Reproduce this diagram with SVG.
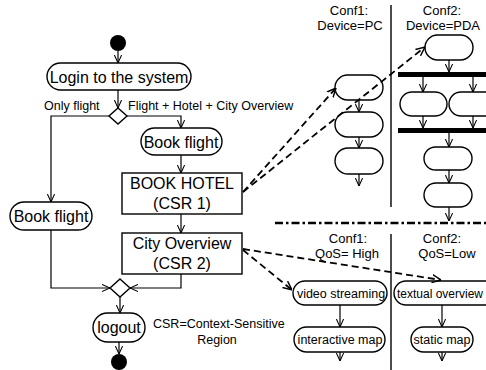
<svg xmlns="http://www.w3.org/2000/svg" width="486" height="370" viewBox="0 0 486 370">
<style>
  .node { fill: #fff; stroke: #000; stroke-width: 1.4; }
  .big { font-family: "Liberation Sans", Arial, sans-serif; font-size: 16px; fill: #000; text-anchor: middle; }
  .small { font-family: "Liberation Sans", Arial, sans-serif; font-size: 12.5px; fill: #000; }
  .mid { text-anchor: middle; }
  .flow { fill: none; stroke: #000; stroke-width: 1.2; marker-end: url(#arr); }
  .dash { fill: none; stroke: #000; stroke-width: 1.8; stroke-dasharray: 7 4; marker-end: url(#arr2); }
  .div { stroke: #000; stroke-width: 1.4; fill: none; }
</style>
<defs>
  <marker id="arr" viewBox="0 0 10 10" refX="10" refY="5" markerUnits="userSpaceOnUse" markerWidth="8" markerHeight="9" orient="auto">
    <path d="M0,0.5 L10,5 L0,9.5" fill="none" stroke="#000" stroke-width="1.3"/>
  </marker>
  <marker id="arr2" viewBox="0 0 10 10" refX="10" refY="5" markerUnits="userSpaceOnUse" markerWidth="9" markerHeight="10" orient="auto">
    <path d="M0,0.5 L10,5 L0,9.5" fill="none" stroke="#000" stroke-width="1.6"/>
  </marker>
</defs>
<rect width="486" height="370" fill="#fff"/>

<!-- Left main activity flow -->
<g id="start"><circle cx="118" cy="43" r="8" fill="#000"/></g>
<g id="login"><rect class="node" x="47" y="63" width="144" height="27" rx="13.5"/><text class="big" x="119" y="83">Login to the system</text></g>
<g id="decision"><polygon class="node" points="118,108 127,116 118,124 109,116"/></g>
<g id="label-only-flight"><text class="small" x="44" y="110">Only flight</text></g>
<g id="label-fhc"><text class="small" x="128" y="110">Flight + Hotel + City Overview</text></g>
<g id="bookflight-right"><rect class="node" x="141" y="128" width="81" height="27" rx="13.5"/><text class="big" x="181" y="148">Book flight</text></g>
<g id="bookhotel"><rect class="node" x="122" y="173" width="120" height="41"/><text class="big" x="182" y="189">BOOK HOTEL</text><text class="big" x="182" y="209">(CSR 1)</text></g>
<g id="cityoverview"><rect class="node" x="122" y="233" width="120" height="41"/><text class="big" x="182" y="249">City Overview</text><text class="big" x="182" y="269">(CSR 2)</text></g>
<g id="bookflight-left"><rect class="node" x="10" y="202" width="82" height="28" rx="14"/><text class="big" x="51" y="222">Book flight</text></g>
<g id="merge"><polygon class="node" points="120,279 130,288 120,297 110,288"/></g>
<g id="logout"><rect class="node" x="93" y="313" width="52" height="29" rx="14.5"/><text class="big" x="119" y="333">logout</text></g>
<g id="end"><circle cx="119" cy="362" r="8" fill="#000"/></g>
<g id="csr-note"><text class="small" x="153" y="328">CSR=Context-Sensitive</text><text class="small mid" x="217" y="344">Region</text></g>

<!-- Upper right: device configurations -->
<g id="conf-device-headers">
  <text class="small mid" x="349" y="15" style="font-size:13px">Conf1:</text>
  <text class="small mid" x="350" y="30" style="font-size:13px">Device=PC</text>
  <text class="small mid" x="442" y="15" style="font-size:13px">Conf2:</text>
  <text class="small mid" x="443" y="30" style="font-size:13px">Device=PDA</text>
  <line class="div" x1="391" y1="5" x2="391" y2="207"/>
</g>
<g id="pc-node1"><rect class="node" x="335" y="75" width="48" height="25" rx="12.5"/></g>
<g id="pc-node2"><rect class="node" x="335" y="112" width="48" height="25" rx="12.5"/></g>
<g id="pc-node3"><rect class="node" x="335" y="148" width="48" height="26" rx="13"/></g>
<g id="pda-node1"><rect class="node" x="425" y="35" width="48" height="25" rx="12.5"/></g>
<g id="pda-fork"><rect x="398" y="72" width="90" height="5" fill="#000"/></g>
<g id="pda-node2"><rect class="node" x="400" y="92" width="47" height="24" rx="12"/></g>
<g id="pda-node3"><rect class="node" x="449" y="92" width="48" height="24" rx="12"/></g>
<g id="pda-join"><rect x="398" y="128" width="90" height="5" fill="#000"/></g>
<g id="pda-node4"><rect class="node" x="424" y="147" width="48" height="23" rx="11.5"/></g>
<g id="pda-node5"><rect class="node" x="424" y="183" width="48" height="24" rx="12"/></g>
<g id="separator"><line x1="275" y1="223" x2="486" y2="223" stroke="#000" stroke-width="2.6" stroke-dasharray="8 3 2.5 3"/></g>

<!-- Lower right: QoS configurations -->
<g id="conf-qos-headers">
  <text class="small mid" x="348" y="243" style="font-size:13px">Conf1:</text>
  <text class="small mid" x="347" y="258" style="font-size:13px">QoS= High</text>
  <text class="small mid" x="442" y="243" style="font-size:13px">Conf2:</text>
  <text class="small mid" x="447" y="258" style="font-size:13px">QoS=Low</text>
  <line class="div" x1="391" y1="234" x2="391" y2="370"/>
</g>
<g id="video"><rect class="node" x="293" y="281" width="94" height="24" rx="12"/><text class="small mid" x="341" y="298">video streaming</text></g>
<g id="textual"><rect class="node" x="394" y="281" width="104" height="24" rx="12"/><text class="small" x="397" y="298" style="font-size:12px">textual overview</text></g>
<g id="interactive"><rect class="node" x="294" y="327" width="91" height="25" rx="12.5"/><text class="small mid" x="340" y="344">interactive map</text></g>
<g id="static"><rect class="node" x="411" y="327" width="62" height="25" rx="12.5"/><text class="small mid" x="442" y="344">static map</text></g>

<g id="connectors">
  <line class="flow" x1="118" y1="51" x2="118" y2="63"/>
  <line class="flow" x1="118" y1="90" x2="118" y2="108"/>
  <polyline class="flow" points="109,116 51,116 51,202"/>
  <polyline class="flow" points="127,116 181,116 181,128"/>
  <line class="flow" x1="181" y1="155" x2="181" y2="173"/>
  <line class="flow" x1="181" y1="214" x2="181" y2="233"/>
  <polyline class="flow" points="181,274 181,288 130,288"/>
  <polyline class="flow" points="51,230 51,288 110,288"/>
  <line class="flow" x1="120" y1="297" x2="120" y2="313"/>
  <line class="flow" x1="119" y1="342" x2="119" y2="354"/>

  <line class="flow" x1="359" y1="100" x2="359" y2="112"/>
  <line class="flow" x1="359" y1="137" x2="359" y2="148"/>
  <line class="flow" x1="359" y1="174" x2="359" y2="186"/>
  <line class="flow" x1="449" y1="60" x2="449" y2="72"/>
  <line class="flow" x1="423" y1="77" x2="423" y2="92"/>
  <line class="flow" x1="473" y1="77" x2="473" y2="92"/>
  <line class="flow" x1="423" y1="116" x2="423" y2="128"/>
  <line class="flow" x1="473" y1="116" x2="473" y2="128"/>
  <line class="flow" x1="449" y1="133" x2="449" y2="147"/>
  <line class="flow" x1="449" y1="170" x2="449" y2="183"/>
  <line class="flow" x1="449" y1="207" x2="449" y2="221"/>

  <line class="flow" x1="340" y1="305" x2="340" y2="327"/>
  <line class="flow" x1="442" y1="305" x2="442" y2="327"/>
  <line class="flow" x1="340" y1="352" x2="340" y2="361"/>
  <line class="flow" x1="442" y1="352" x2="442" y2="361"/>

  <line class="dash" x1="243" y1="192" x2="336" y2="88"/>
  <line class="dash" x1="243" y1="192" x2="425" y2="47"/>
  <line class="dash" x1="243" y1="250" x2="292" y2="290"/>
  <line class="dash" x1="243" y1="249" x2="441" y2="280"/>
</g>
</svg>
